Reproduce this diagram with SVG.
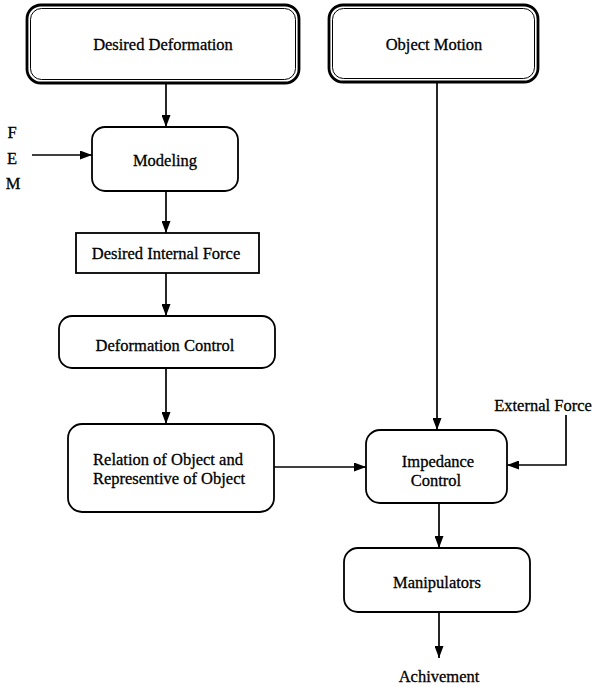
<svg xmlns="http://www.w3.org/2000/svg" width="593" height="687" viewBox="0 0 593 687">
<style>
text{font-family:"Liberation Serif","Times New Roman",serif;font-size:16.5px;fill:#000;stroke:#000;stroke-width:0.3;text-anchor:middle;dominant-baseline:central}
.box{fill:#fff;stroke:#000;stroke-width:1.8}
.outer{fill:#fff;stroke:#000;stroke-width:2.8}
.inner{fill:none;stroke:#000;stroke-width:1}
.ln{fill:none;stroke:#000;stroke-width:1.7}
</style>
<defs>
<marker id="ah" viewBox="0 0 12 9" refX="12" refY="4.5" markerWidth="12" markerHeight="9" markerUnits="userSpaceOnUse" orient="auto">
<path d="M0,0 L12,4.5 L0,9 Z" fill="#000"/>
</marker>
</defs>
<rect width="593" height="687" fill="#fff"/>
<g id="connectors">
<line class="ln" x1="166" y1="84" x2="166" y2="127" marker-end="url(#ah)"/>
<line class="ln" x1="32" y1="155" x2="92" y2="155" marker-end="url(#ah)"/>
<line class="ln" x1="166" y1="191" x2="166" y2="233" marker-end="url(#ah)"/>
<line class="ln" x1="166" y1="273" x2="166" y2="316" marker-end="url(#ah)"/>
<line class="ln" x1="166" y1="368" x2="166" y2="424" marker-end="url(#ah)"/>
<line class="ln" x1="437" y1="82" x2="437" y2="430" marker-end="url(#ah)"/>
<line class="ln" x1="274" y1="467" x2="366" y2="467" marker-end="url(#ah)"/>
<polyline class="ln" points="566,415 566,465 507,465" marker-end="url(#ah)"/>
<line class="ln" x1="439" y1="503" x2="439" y2="548" marker-end="url(#ah)"/>
<line class="ln" x1="439" y1="612" x2="439" y2="658" marker-end="url(#ah)"/>
</g>
<g id="desired-deformation">
<rect class="outer" x="27" y="5" width="272" height="78" rx="14"/>
<rect class="inner" x="30.5" y="8.5" width="265" height="71" rx="11"/>
<text x="163" y="44">Desired Deformation</text>
</g>
<g id="object-motion">
<rect class="outer" x="329" y="5" width="209" height="77" rx="14"/>
<rect class="inner" x="332.5" y="8.5" width="202" height="70" rx="11"/>
<text x="434" y="44">Object Motion</text>
</g>
<g id="fem">
<text x="12" y="132">F</text>
<text x="12" y="158">E</text>
<text x="13" y="183">M</text>
</g>
<g id="modeling">
<rect class="box" x="92" y="127" width="146" height="64" rx="13"/>
<text x="165" y="160">Modeling</text>
</g>
<g id="desired-internal-force">
<rect class="box" x="76" y="233" width="183" height="40"/>
<text x="166" y="253">Desired Internal Force</text>
</g>
<g id="deformation-control">
<rect class="box" x="59" y="316" width="216" height="52" rx="13"/>
<text x="165" y="345">Deformation Control</text>
</g>
<g id="relation">
<rect class="box" x="68" y="424" width="206" height="88" rx="14"/>
<text x="168" y="459">Relation of Object and</text>
<text x="169" y="478">Representive of Object</text>
</g>
<g id="impedance-control">
<rect class="box" x="366" y="430" width="141" height="73" rx="14"/>
<text x="438" y="461">Impedance</text>
<text x="436" y="480">Control</text>
</g>
<g id="external-force">
<text x="543" y="405">External Force</text>
</g>
<g id="manipulators">
<rect class="box" x="344" y="548" width="186" height="64" rx="14"/>
<text x="437" y="582">Manipulators</text>
</g>
<g id="achivement">
<text x="439" y="676">Achivement</text>
</g>
</svg>
